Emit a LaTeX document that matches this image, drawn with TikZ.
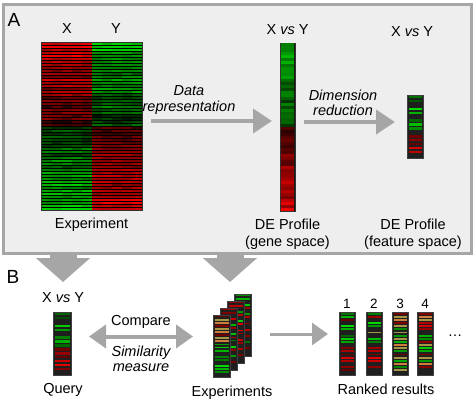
\documentclass[tikz,border=0pt]{standalone}
\usepackage{fontspec}
\setmainfont{Liberation Sans}
\usepackage{xcolor}
\usepackage{tikz}
\usetikzlibrary{arrows.meta}

\definecolor{olivebar}{RGB}{165,150,70}
\definecolor{orangebar}{RGB}{205,125,60}
\definecolor{arrowgray}{RGB}{166,166,166}

% striped expression bar: name, left x, top y, width, height, rows, row/colour list
\newcommand{\stripebar}[7]{%
  \node[anchor=north west, inner sep=0pt, outer sep=0pt, fill=black!88, draw=black!75,
        line width=0.8pt, minimum width=#4pt, minimum height=#5pt] (#1) at (#2,#3) {};
  \foreach \rw/\cl in {#7} {
    \fill[\cl] ({#2+1.5},{#3+(\rw-0.8)*#5/#6}) rectangle ++({#4-3},{0.6*#5/#6});
  }
}

\tikzset{
  lbl/.style={font=\fontsize{14.5}{17}\selectfont, align=center, inner sep=0pt},
  itlbl/.style={lbl, font=\fontsize{14.5}{15.5}\selectfont\itshape},
  panellbl/.style={font=\fontsize{19}{20}\selectfont, inner sep=0pt},
  flowarrow/.style={arrowgray, line width=4pt, -{Triangle[length=19pt,width=24pt]}},
  bigarrow/.style={arrowgray, line width=27pt, -{Triangle[length=24pt,width=53pt]}},
}

\begin{document}
\begin{tikzpicture}[x=1pt,y=-1pt]
  \useasboundingbox (0,0) rectangle (474,402);
  \pgfmathsetseed{7}

  % Panel A
  \node[fill=gray!13, draw=arrowgray, line width=3pt, minimum width=468pt,
        minimum height=249pt, inner sep=0pt] (panelA) at (237,128.5) {};
  \node[panellbl] (labA) at (14,20) {A};

  % Heatmap of the experiment
  \node[anchor=north west, inner sep=0pt, outer sep=0pt, fill=black, draw=black!80,
        line width=0.8pt, minimum width=101pt, minimum height=168pt] (heat) at (41,42) {};
  \foreach \r in {0,...,55} {
    \pgfmathsetmacro\rowx{0.18*rand}
    \pgfmathsetmacro\rowy{0.18*rand}
    \foreach \c in {0,...,9} {
      \ifnum\r<28 \pgfmathsetmacro\t{\r/27}\else\pgfmathsetmacro\t{(55-\r)/27}\fi
      \ifnum\c<5 \let\rn\rowx\else\let\rn\rowy\fi
      \pgfmathtruncatemacro\p{max(8,min(100,100*(0.85-0.55*\t+\rn+0.12*rand)))}
      \pgfmathtruncatemacro\isred{((\r<28) && (\c<5)) || ((\r>27) && (\c>4)) ? 1 : 0}
      \ifnum\isred=1 \def\hue{red}\else\def\hue{green!85!black}\fi
      \fill[\hue!\p!black] ({41.5+\c*10}, {42.5+\r*3}) rectangle ++(10,2.6);
    }
  }
  \node[lbl] (labX) at (67,29) {X};
  \node[lbl] (labY) at (116,29) {Y};
  \node[lbl] (labexp) at (91.5,225) {Experiment};

  % DE profile in gene space
  \node[anchor=north west, inner sep=0pt, outer sep=0pt, fill=black!90, draw=black!80,
        line width=0.8pt, minimum width=15pt, minimum height=168pt] (gene) at (280,43) {};
  \foreach \r in {0,...,55} {
    \ifnum\r<28 \pgfmathsetmacro\t{\r/27}\def\hue{green!85!black}\else\pgfmathsetmacro\t{(55-\r)/27}\def\hue{red}\fi
    \pgfmathtruncatemacro\p{max(15,min(100,100*(0.75-0.45*\t+0.2*rand)))}
    \fill[\hue!\p!black] (281,{43.4+\r*3}) rectangle ++(13,2.3);
  }
  \node[lbl] (labgene) at (287.5,30) {X \textit{vs} Y};
  \node[lbl] (degene) at (287.5,234) {DE Profile\\(gene space)};

  % DE profile in feature space
  \stripebar{feat}{407}{95}{16}{63}{16}{1/green!45!black,2/green!35!black,4/green!85!black,
    5/green!70!black,7/green!40!black,8/green!75!black,9/green!55!black,11/red!45!black,
    12/red!55!black,13/red!40!black,14/red!85!black,15/red!75!black}
  \node[lbl] (labfeat) at (412,32) {X \textit{vs} Y};
  \node[lbl] (defeat) at (413,234) {DE Profile\\(feature space)};

  % Arrows in panel A
  \draw[flowarrow, shorten <=9pt, shorten >=8pt] ([yshift=5pt]heat.east) -- ([yshift=5pt]heat.east -| gene.west);
  \node[itlbl] (labdata) at (189,100) {Data\\representation};
  \draw[flowarrow, shorten <=9pt, shorten >=12pt] ([yshift=5pt]gene.east) -- ([yshift=5pt]gene.east -| feat.west);
  \node[itlbl] (labdim) at (343,103) {Dimension\\reduction};

  % Panel B
  \node[panellbl] (labB) at (13,277) {B};

  % Query
  \stripebar{query}{53}{312}{18}{63}{16}{1/green!40!black,2/green!30!black,4/green!80!black,
    5/green!60!black,7/green!50!black,8/green!70!black,9/green!40!black,10/red!45!black,
    11/red!60!black,12/red!40!black,13/red!80!black,14/red!90!black,15/red!50!black}
  \node[lbl] (labquery) at (63,298) {X \textit{vs} Y};
  \node[lbl] (queryname) at (63,390) {Query};

  % Experiments (stacked)
  \stripebar{exps4}{234}{294}{17}{62}{20}{1/green!55!black,2/green!70!black,4/green!80!black,
    5/red!55!black,7/green!60!black,8/red!70!black,10/red!60!black,12/red!75!black,
    14/red!50!black,16/green!45!black,18/red!45!black}
  \stripebar{exps3}{227}{301}{17}{62}{20}{1/red!55!black,2/red!75!black,4/green!60!black,
    5/red!70!black,7/green!80!black,8/red!85!black,10/red!90!black,11/red!60!black,
    13/red!80!black,14/red!60!black,16/red!70!black,18/red!50!black}
  \stripebar{exps2}{220}{308}{17}{62}{20}{1/red!60!black,2/red!50!black,4/red!80!black,
    6/green!70!black,7/red!60!black,9/green!75!black,10/red!70!black,11/green!50!black,
    13/green!80!black,14/red!55!black,16/green!60!black,18/red!45!black}
  \stripebar{exps1}{213}{315}{17}{62}{20}{1/red!40!black,2/olivebar,3/orangebar,4/red!50!black,
    5/olivebar,6/orangebar,7/red!45!black,8/olivebar,9/orangebar,10/green!60!black,
    11/green!80!black,12/green!70!black,14/green!50!black,15/green!45!black,
    17/green!85!black,18/green!70!black,19/green!55!black}
  \node[lbl] (labexps) at (232,393) {Experiments};

  % Ranked results
  \stripebar{rankone}{339}{312}{16}{63}{20}{1/green!45!black,2/green!70!black,3/red!40!black,
    5/green!85!black,6/green!70!black,8/green!40!black,9/green!80!black,10/green!65!black,
    12/red!50!black,13/red!65!black,14/red!40!black,15/red!85!black,16/red!70!black,
    18/red!55!black,19/red!40!black}
  \stripebar{ranktwo}{366}{312}{16}{63}{20}{1/green!50!black,2/red!60!black,4/green!85!black,
    5/green!60!black,7/olivebar,9/green!75!black,10/green!50!black,12/red!60!black,
    13/red!70!black,14/red!50!black,15/red!90!black,16/red!80!black,18/red!55!black}
  \stripebar{rankthree}{392}{312}{16}{63}{20}{1/red!45!black,2/olivebar,3/orangebar,
    4/red!50!black,5/olivebar,6/green!55!black,7/olivebar,8/green!60!black,9/olivebar,
    10/green!70!black,11/orangebar,12/olivebar,13/green!60!black,14/red!45!black,
    15/olivebar,16/green!65!black,17/orangebar,18/green!50!black,19/olivebar}
  \stripebar{rankfour}{417}{312}{16}{63}{20}{1/red!50!black,2/orangebar,3/olivebar,
    4/red!70!black,5/red!85!black,6/red!60!black,8/green!70!black,9/green!55!black,
    10/red!55!black,11/olivebar,12/green!80!black,13/green!65!black,14/red!50!black,
    15/olivebar,16/green!60!black,17/orangebar,18/red!50!black}
  \foreach \n/\b in {1/rankone,2/ranktwo,3/rankthree,4/rankfour}
    \node[lbl, font=\fontsize{13.5}{15}\selectfont, anchor=south] at ([yshift=3pt]\b.north) {\n};
  \node[lbl] (more) at (455,336) {\dots};
  \node[lbl] (labrank) at (386,389) {Ranked results};

  % Arrows into panel B
  \coordinate (qin) at (63,282);
  \coordinate (ein) at (230,282);
  \draw[bigarrow] (panelA.south -| qin) -- (qin);
  \draw[bigarrow] (panelA.south -| ein) -- (ein);

  % Arrows in panel B
  \draw[flowarrow, {Triangle[length=17pt,width=23pt]}-{Triangle[length=17pt,width=23pt]},
        shorten <=18pt, shorten >=20pt] ([yshift=7pt]query.east) -- ([yshift=7pt]query.east -| exps1.west);
  \node[lbl] (labcomp) at (141,322) {Compare};
  \node[itlbl] (labsim) at (141,359) {Similarity\\measure};
  \draw[arrowgray, line width=3pt, -{Triangle[length=16pt,width=22pt]}, shorten <=19pt, shorten >=11pt]
    (exps4.east |- 0,334) -- (rankone.west |- 0,334);
\end{tikzpicture}
\end{document}
